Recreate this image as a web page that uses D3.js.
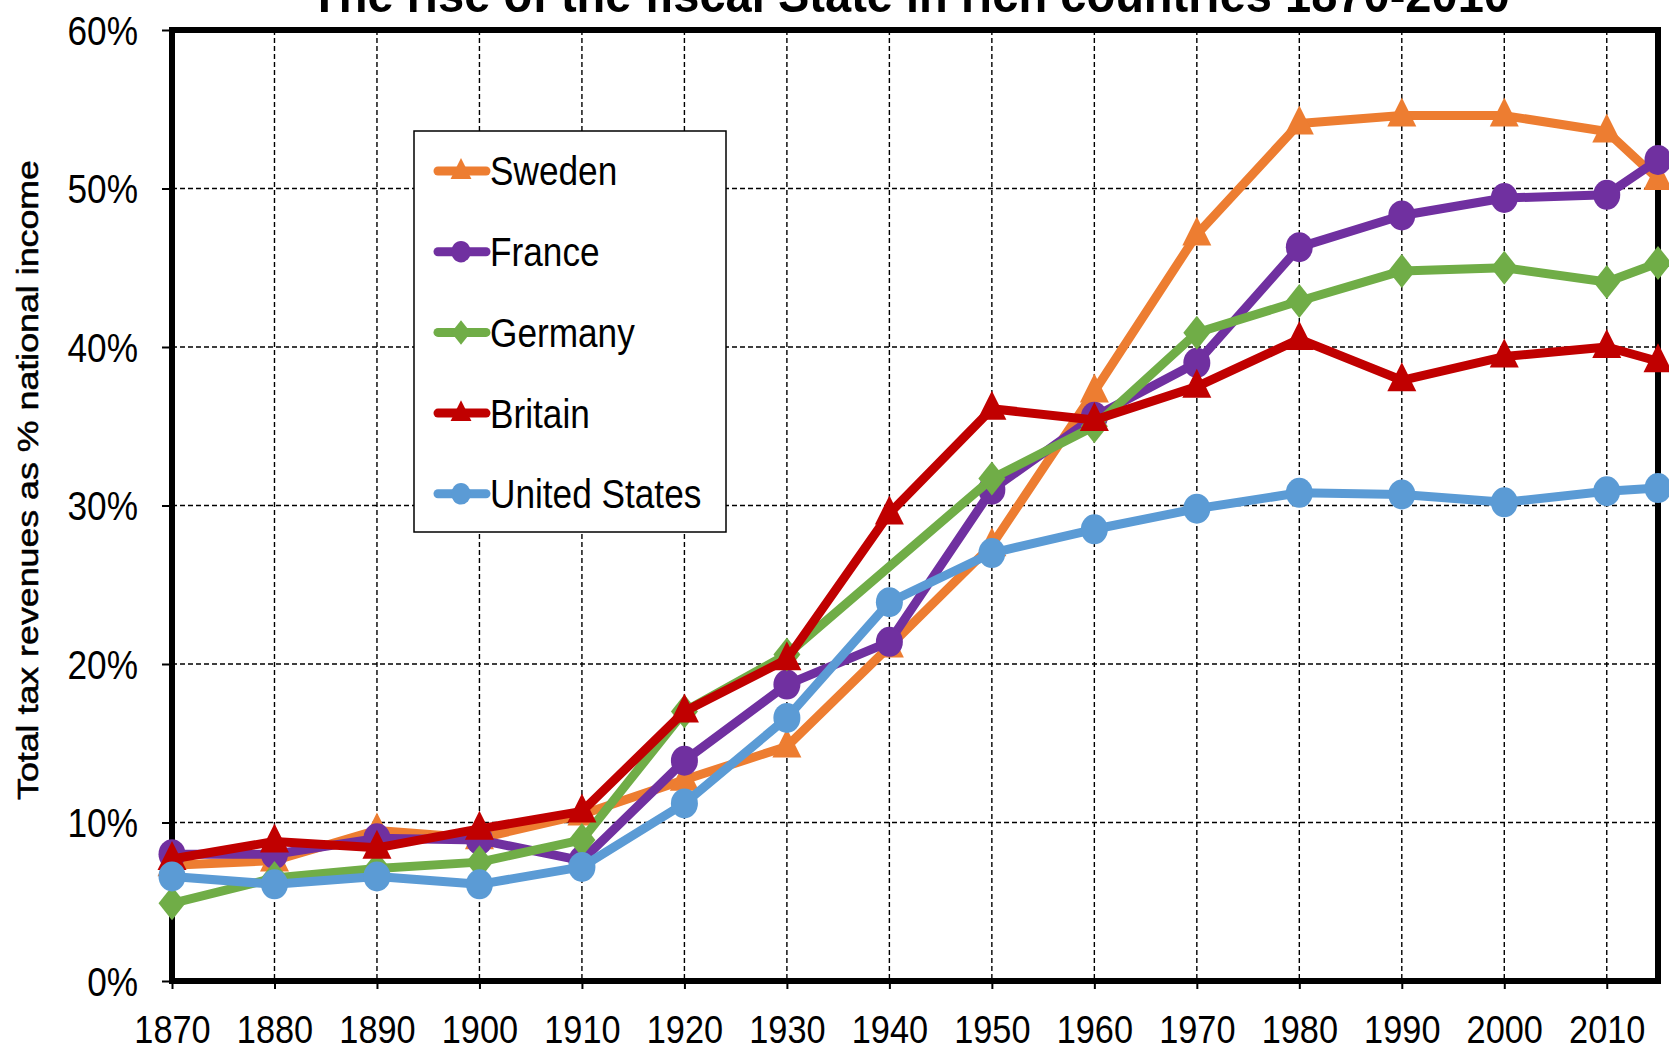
<!DOCTYPE html>
<html>
<head>
<meta charset="utf-8">
<script src="https://cdn.jsdelivr.net/npm/d3@7"></script>
<style>
  body { margin: 0; background: #fff; }
  svg { display: block; }
  text { font-family: "Liberation Sans", Arial, sans-serif; fill: #000; }
</style>
</head>
<body>
<svg width="1669" height="1053"></svg>
<script>
var years = [1870, 1880, 1890, 1900, 1910, 1920, 1930, 1940, 1950, 1960, 1970, 1980, 1990, 2000, 2010, 2015];
var yTicks = [0, 10, 20, 30, 40, 50, 60];
var xTicks = [1870, 1880, 1890, 1900, 1910, 1920, 1930, 1940, 1950, 1960, 1970, 1980, 1990, 2000, 2010];

var sweden  = [7.3, 7.6, 9.5, 9.0, 10.5, 12.7, 14.8, 21.1, 27.5, 37.2, 47.1, 54.1, 54.6, 54.6, 53.6, 50.6];
var france  = [8.0, 8.0, 9.0, 8.9, 7.6, 13.9, 18.7, 21.4, 31.0, 35.6, 39.0, 46.3, 48.3, 49.4, 49.6, 51.8];
var germany = [4.9, 6.5, 7.1, 7.5, 8.9, 17.0, 20.6, null, 31.7, 35.0, 40.9, 42.9, 44.8, 45.0, 44.1, 45.3];
var britain = [7.7, 8.8, 8.4, 9.6, 10.7, 17.0, 20.3, 29.5, 36.1, 35.4, 37.5, 40.5, 37.9, 39.4, 40.0, 39.1];
var usa     = [6.6, 6.1, 6.6, 6.1, 7.2, 11.2, 16.6, 23.9, 27.0, 28.5, 29.8, 30.8, 30.7, 30.2, 30.9, 31.1];

var series = [
    { name: "Sweden", values: sweden, color: "#ED7D31", marker: "triangle" },
    { name: "France", values: france, color: "#7030A0", marker: "circle" },
    { name: "Germany", values: germany, color: "#70AD47", marker: "diamond" },
    { name: "Britain", values: britain, color: "#C00000", marker: "triangle" },
    { name: "United States", values: usa, color: "#5B9BD5", marker: "circle" }
];

var svg = d3.select("svg");
var margin = { top: 30, right: 11, bottom: 72, left: 172 };
var width = +svg.attr("width") - margin.left - margin.right;
var height = +svg.attr("height") - margin.top - margin.bottom;
var g = svg.append("g").attr("transform", "translate(" + margin.left + "," + margin.top + ")");

var xScale = d3.scaleLinear().domain([1870, 2015]).range([0, width]);
var yScale = d3.scaleLinear().domain([0, 60]).range([height, 0]);

// squeeze text horizontally, like the narrow Excel font
var condense = function (sel, f) {
    sel.each(function () {
        var w = this.getComputedTextLength();
        d3.select(this).attr("textLength", w * f).attr("lengthAdjust", "spacingAndGlyphs");
    });
};

// title (cut off at top like the original)
svg.append("text")
    .attr("x", 910)
    .attr("y", 12)
    .attr("text-anchor", "middle")
    .attr("textLength", 1200)
    .attr("lengthAdjust", "spacingAndGlyphs")
    .style("font-size", "50px")
    .style("font-weight", "bold")
    .text("The rise of the fiscal State in rich countries 1870-2010");

// gridlines
g.append("g").selectAll("line").data(yTicks.slice(1, -1)).enter().append("line")
    .attr("x1", 0).attr("x2", width)
    .attr("y1", (d) => yScale(d)).attr("y2", (d) => yScale(d))
    .attr("stroke", "#000").attr("stroke-width", 1.4)
    .attr("stroke-dasharray", "5,3");

g.append("g").selectAll("line").data(xTicks.slice(1)).enter().append("line")
    .attr("x1", (d) => xScale(d)).attr("x2", (d) => xScale(d))
    .attr("y1", 0).attr("y2", height)
    .attr("stroke", "#000").attr("stroke-width", 1.4)
    .attr("stroke-dasharray", "5,3");

// axes
var yAxis = g.append("g")
    .call(d3.axisLeft(yScale).tickValues(yTicks).tickSize(10).tickPadding(24).tickFormat((d) => d + "%"));
yAxis.select(".domain").remove();
yAxis.selectAll("line").attr("stroke-width", 2);
yAxis.selectAll("text").style("font-size", "40px").attr("fill", "#000").attr("dy", "0.36em").call(condense, 0.88);

var xAxis = g.append("g")
    .attr("transform", "translate(0," + height + ")")
    .call(d3.axisBottom(xScale).tickValues(xTicks).tickSize(8).tickPadding(26).tickFormat(d3.format("d")));
xAxis.select(".domain").remove();
xAxis.selectAll("line").attr("stroke-width", 2);
xAxis.selectAll("text").style("font-size", "39px").attr("fill", "#000").call(condense, 0.88);

// frame
g.append("rect")
    .attr("x", 0).attr("y", 0)
    .attr("width", width).attr("height", height)
    .attr("fill", "none")
    .attr("stroke", "#000")
    .attr("stroke-width", 6);

// y axis title
svg.append("text")
    .attr("transform", "translate(38," + 480 + ") rotate(-90)")
    .attr("text-anchor", "middle")
    .attr("textLength", 640)
    .attr("lengthAdjust", "spacingAndGlyphs")
    .style("font-size", "29px")
    .style("stroke", "#000")
    .style("stroke-width", 0.5)
    .text("Total tax revenues as % national income");

var symbolFor = function (m, s) {
    if (m === "triangle") return "M0," + (-18 * s) + "L" + (14.5 * s) + "," + (11 * s) + "L" + (-14.5 * s) + "," + (11 * s) + "Z";
    if (m === "diamond") return "M0," + (-17 * s) + "L" + (13.5 * s) + ",0L0," + (17 * s) + "L" + (-13.5 * s) + ",0Z";
    var rx = 13.5 * s, ry = 15 * s;
    return "M" + (-rx) + ",0A" + rx + "," + ry + " 0 1,0 " + rx + ",0A" + rx + "," + ry + " 0 1,0 " + (-rx) + ",0Z";
};

var line = d3.line()
    .x((d) => xScale(d.year))
    .y((d) => yScale(d.v));

series.forEach(function (s) {
    var pts = years.map(function (y, i) { return { year: y, v: s.values[i] }; });
    var valid = pts.filter((d) => d.v !== null);
    g.append("path")
        .attr("d", line(valid))
        .attr("fill", "none")
        .attr("stroke", s.color)
        .attr("stroke-width", 9)
        .attr("stroke-linejoin", "round");
    g.append("g").selectAll("path").data(valid).enter().append("path")
        .attr("transform", (d) => "translate(" + xScale(d.year) + "," + yScale(d.v) + ")")
        .attr("d", symbolFor(s.marker, 1))
        .attr("fill", s.color);
});

// legend
var legend = svg.append("g").attr("transform", "translate(414,131)");
legend.append("rect")
    .attr("width", 312).attr("height", 401)
    .attr("fill", "#fff")
    .attr("stroke", "#000")
    .attr("stroke-width", 1.5);

var items = legend.selectAll(".item").data(series).enter().append("g")
    .attr("class", "item")
    .attr("transform", (d, i) => "translate(0," + (40 + i * 80.7) + ")");
items.append("line")
    .attr("x1", 24).attr("x2", 72)
    .attr("stroke", (d) => d.color)
    .attr("stroke-width", 9)
    .attr("stroke-linecap", "round");
items.append("path")
    .attr("transform", "translate(47,0)")
    .attr("d", (d) => symbolFor(d.marker, 0.72))
    .attr("fill", (d) => d.color);
items.append("text")
    .attr("x", 76)
    .attr("dy", "0.36em")
    .style("font-size", "40px")
    .text((d) => d.name)
    .call(condense, 0.88);
</script>
</body>
</html>
